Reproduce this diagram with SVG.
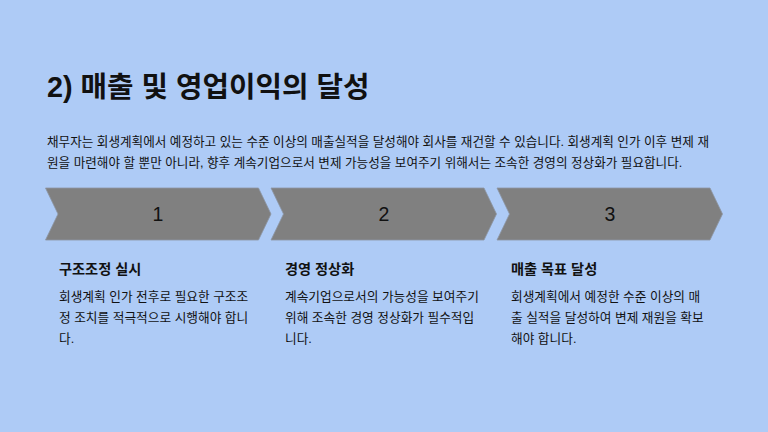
<svg xmlns="http://www.w3.org/2000/svg" width="768" height="432" viewBox="0 0 768 432">
<style>
.t{font-family:"Liberation Sans","Noto Sans CJK KR",sans-serif;fill:#111}
.title{font-size:28.8px;font-weight:bold}
.p{font-size:12.6px}
.h{font-size:14.2px;font-weight:bold}
.b{font-size:12.7px}
.n{font-size:19.5px;text-anchor:middle}
.chev{fill:#808080;stroke:#8d95a3;stroke-width:0.8}
</style>
<rect width="768" height="432" fill="#AECBF6"/>
<text class="t title" x="47" y="97">2) 매출 및 영업이익의 달성</text>
<text class="t p" x="47" y="146">채무자는 회생계획에서 예정하고 있는 수준 이상의 매출실적을 달성해야 회사를 재건할 수 있습니다. 회생계획 인가 이후 변제 재</text>
<text class="t p" x="47" y="167">원을 마련해야 할 뿐만 아니라, 향후 계속기업으로서 변제 가능성을 보여주기 위해서는 조속한 경영의 정상화가 필요합니다.</text>
<g id="step1">
<path class="chev" d="M45.5,188 H258.5 L271,214 L258.5,240 H45.5 L58,214 Z"/>
<text class="t n" x="158" y="221">1</text>
<text class="t h" x="59" y="274">구조조정 실시</text>
<text class="t b" x="59" y="301">회생계획 인가 전후로 필요한 구조조</text>
<text class="t b" x="59" y="322">정 조치를 적극적으로 시행해야 합니</text>
<text class="t b" x="59" y="343">다.</text>
</g>
<g id="step2">
<path class="chev" d="M271,188 H484 L496.5,214 L484,240 H271 L283.5,214 Z"/>
<text class="t n" x="384" y="221">2</text>
<text class="t h" x="285" y="274">경영 정상화</text>
<text class="t b" x="285" y="301">계속기업으로서의 가능성을 보여주기</text>
<text class="t b" x="285" y="322">위해 조속한 경영 정상화가 필수적입</text>
<text class="t b" x="285" y="343">니다.</text>
</g>
<g id="step3">
<path class="chev" d="M497,188 H710 L722.5,214 L710,240 H497 L509.5,214 Z"/>
<text class="t n" x="610" y="221">3</text>
<text class="t h" x="511" y="274">매출 목표 달성</text>
<text class="t b" x="511" y="301">회생계획에서 예정한 수준 이상의 매</text>
<text class="t b" x="511" y="322">출 실적을 달성하여 변제 재원을 확보</text>
<text class="t b" x="511" y="343">해야 합니다.</text>
</g>
<g id="connectors"></g>
</svg>
